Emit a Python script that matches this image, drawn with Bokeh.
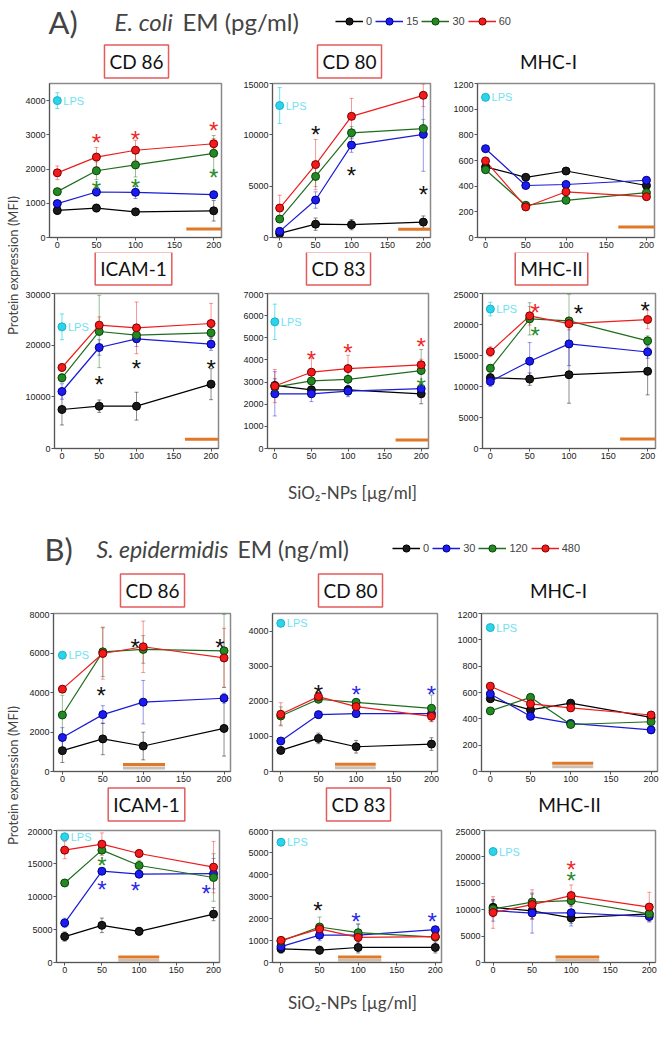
import math
from bokeh.plotting import figure
from bokeh.layouts import column, row
from bokeh.models import (Range1d, Label, Legend, LegendItem, FixedTicker,
                          Whisker, TeeHead, ColumnDataSource)
from bokeh.core.properties import value
from bokeh.embed import file_html
from bokeh.resources import INLINE

# ------------------------------------------------------------------ data
DOSE = [0, 50, 100, 200]                 # SiO2-NPs [µg/ml]
X_TICKS = [0, 50, 100, 150, 200]
A_DOSES = ["0", "15", "30", "60"]        # E. coli EM (pg/ml)
B_DOSES = ["0", "30", "120", "480"]      # S. epidermidis EM (ng/ml)

# series order: EM dose 0, low, mid, high  (black, blue, green, red)
A_CD86 = [[790, 860, 750, 780], [990, 1330, 1320, 1250],
          [1340, 1950, 2120, 2460], [1890, 2350, 2550, 2740]]
A_CD86_SD = [[120, 110, 60, 300], [90, 120, 180, 100],
             [90, 260, 350, 520], [200, 280, 290, 150]]
A_CD86_LPS = [4000, 230]
A_CD86_STARS = [(50, 2950, 3), (100, 3030, 3), (200, 3310, 3),
                (50, 1570, 2), (100, 1630, 2), (200, 1925, 2)]
A_CD86_BAR = [165, 215, 250]

A_CD80 = [[400, 1300, 1250, 1500], [600, 3650, 9000, 10050],
          [1800, 5950, 10200, 10600], [2870, 7100, 11800, 13850]]
A_CD80_SD = [[200, 600, 500, 600], [300, 800, 700, 3600],
             [300, 1000, 600, 900], [1250, 2450, 1750, 1100]]
A_CD80_LPS = [12850, 1750]
A_CD80_STARS = [(50, 10600, 0), (100, 6650, 0), (200, 4800, 0)]
A_CD80_BAR = [165, 215, 800]

A_MHC1 = [[550, 469, 518, 405], [692, 405, 413, 446],
          [528, 251, 290, 349], [597, 238, 356, 318]]
A_MHC1_SD = [[0, 0, 0, 0], [0, 0, 0, 0], [0, 0, 0, 0], [0, 0, 0, 0]]
A_MHC1_LPS = [1092, 0]
A_MHC1_STARS = []
A_MHC1_BAR = [165, 215, 82]

A_ICAM = [[7550, 8190, 8190, 12450], [11030, 19550, 21230, 20190],
          [13680, 22650, 21940, 22390], [15680, 23870, 23350, 24190]]
A_ICAM_SD = [[3000, 1200, 2700, 3000], [1500, 1500, 1500, 1200],
             [800, 7000, 1200, 1000], [700, 1600, 5000, 3900]]
A_ICAM_LPS = [23550, 2500]
A_ICAM_STARS = [(50, 13480, 0), (100, 16650, 0), (200, 16650, 0)]
A_ICAM_BAR = [165, 215, 1800]

A_CD83 = [[2850, 2650, 2650, 2470], [2470, 2470, 2590, 2700],
          [2775, 3050, 3125, 3520], [2820, 3445, 3610, 3780]]
A_CD83_SD = [[300, 300, 200, 450], [1000, 350, 250, 300],
             [200, 300, 400, 950], [750, 650, 600, 250]]
A_CD83_LPS = [5720, 800]
A_CD83_STARS = [(50, 4280, 3), (100, 4600, 3), (200, 4860, 3), (200, 3050, 2)]
A_CD83_BAR = [165, 215, 380]

A_MHC2 = [[11410, 11190, 11900, 12450], [10810, 14080, 16870, 15560],
          [12940, 20910, 20580, 17360], [15610, 21400, 20140, 20800]]
A_MHC2_SD = [[700, 1000, 4600, 3800], [800, 3000, 3500, 1000],
             [600, 2600, 4300, 800], [800, 1500, 1000, 1500]]
A_MHC2_LPS = [22490, 1100]
A_MHC2_STARS = [(57, 22930, 3), (57, 19270, 2), (112, 22760, 0), (197, 23200, 0)]
A_MHC2_BAR = [165, 215, 1530]

B_CD86 = [[1055, 1650, 1290, 2180], [1720, 2880, 3510, 3710],
          [2860, 6060, 6180, 6110], [4170, 5975, 6315, 5750]]
B_CD86_SD = [[600, 800, 700, 1400], [500, 450, 1100, 250],
             [1000, 1250, 700, 1850], [150, 1300, 1300, 1500]]
B_CD86_LPS = [5890, 150]
B_CD86_STARS = [(48, 4170, 0), (90, 6590, 0), (195, 6590, 0)]
B_CD86_BAR = [75, 127, 350]

B_CD80 = [[600, 943, 705, 781], [867, 1619, 1648, 1648],
          [1581, 2057, 1971, 1800], [1629, 2133, 1848, 1571]]
B_CD80_SD = [[80, 150, 180, 180], [80, 100, 80, 80],
             [260, 80, 80, 380], [330, 80, 80, 150]]
B_CD80_LPS = [4220, 0]
B_CD80_STARS = [(50, 2380, 0), (100, 2360, 1), (200, 2360, 1)]
B_CD80_BAR = [72, 126, 210]

B_MHC1 = [[553, 468, 519, 411], [589, 419, 365, 316],
          [460, 563, 357, 378], [648, 514, 483, 429]]
B_MHC1_SD = [[0, 0, 0, 0], [0, 0, 0, 0], [0, 0, 0, 0], [0, 0, 0, 0]]
B_MHC1_LPS = [1093, 0]
B_MHC1_STARS = []
B_MHC1_BAR = [77, 128, 62]

B_ICAM = [[3930, 5630, 4720, 7330], [6000, 13830, 13380, 13460],
          [12050, 17020, 14700, 12880], [17020, 17930, 16520, 14450]]
B_ICAM_SD = [[700, 1100, 600, 1000], [700, 400, 400, 2300],
             [500, 500, 800, 3600], [1300, 1700, 600, 3900]]
B_ICAM_LPS = [19050, 0]
B_ICAM_STARS = [(50, 15570, 2), (50, 12010, 1), (95, 11840, 1), (190, 11300, 1)]
B_ICAM_BAR = [72, 127, 830]

B_CD83 = [[621, 559, 683, 683], [720, 1242, 1242, 1491],
          [969, 1615, 1354, 1155], [1006, 1528, 1143, 1180]]
B_CD83_SD = [[200, 180, 250, 250], [150, 250, 500, 100],
             [100, 450, 400, 150], [100, 200, 200, 100]]
B_CD83_LPS = [5466, 0]
B_CD83_STARS = [(48, 2646, 0), (97, 2124, 1), (196, 2124, 1)]
B_CD83_BAR = [74, 130, 250]

B_MHC2 = [[10455, 9780, 8440, 9210], [9830, 9370, 9420, 8700],
          [10140, 11440, 11700, 9210], [9470, 10970, 12680, 10500]]
B_MHC2_SD = [[1500, 1500, 1000, 800], [2000, 3800, 2500, 1000],
             [1500, 1500, 1000, 500], [3000, 2800, 2000, 2800]]
B_MHC2_LPS = [21010, 0]
B_MHC2_STARS = [(100, 18690, 3), (100, 16620, 2)]
B_MHC2_BAR = [80, 136, 1035]

# ------------------------------------------------------------------ style
TITLE_FONT = "Lato"
TICK_FONT = "Liberation Sans"
LINE_C = ["#000000", "#1a1ad8", "#1e6e1e", "#ee1c1c"]
FILL_C = ["#1a1a1a", "#1c1cf2", "#238a23", "#f21a1a"]
EDGE_C = ["#000000", "#00007a", "#0b420b", "#7a0000"]
STAR_C = ["#111111", "#2a2ae8", "#2a8a2a", "#f02828"]
LPS_C = "#2ad4ea"
LPS_TXT = "#70e2f0"
BAR_C = "#e07828"
SHADOW_C = "#cbbfb3"
BOX_C = "#e35b5b"
LEFT_W = 22   # width of the y-label strip


def make_panel(means, sds, lps, stars, bar, ymax, yticks, geo_row, geo_col, xr, shadow):
    top, bottom, ftop, fbot = geo_row
    x0, x1, fl, fr = geo_col
    p = figure(width=x1 - x0, height=bottom - top,
               x_range=Range1d(*xr), y_range=Range1d(0, ymax),
               min_border_left=fl - x0, min_border_right=x1 - fr,
               min_border_top=ftop - top, min_border_bottom=bottom - fbot,
               output_backend="svg", toolbar_location=None,
               background_fill_color="white", border_fill_color="white")
    p.xgrid.visible = False
    p.ygrid.visible = False
    p.outline_line_color = "#8a8a8a"
    p.outline_line_width = 1.5
    p.xaxis.ticker = FixedTicker(ticks=X_TICKS)
    p.yaxis.ticker = FixedTicker(ticks=yticks)
    for ax in (p.xaxis[0], p.yaxis[0]):
        ax.major_label_text_font = TICK_FONT
        ax.major_label_text_font_size = "9px"
        ax.major_label_text_color = "#222222"
        ax.major_tick_in = 0
        ax.major_tick_out = 3
        ax.minor_tick_in = 0
        ax.minor_tick_out = 0
        ax.axis_line_color = "#555555"
        ax.major_tick_line_color = "#555555"
        ax.major_label_standoff = 1

    fh = fbot - ftop
    upp = ymax / fh

    # orange bar (with grey shadow for panel B)
    if shadow:
        p.segment(x0=[bar[0]], y0=[bar[2] - 3.5 * upp], x1=[bar[1]],
                  y1=[bar[2] - 3.5 * upp], line_color=SHADOW_C, line_width=3)
    p.segment(x0=[bar[0]], y0=[bar[2]], x1=[bar[1]], y1=[bar[2]],
              line_color=BAR_C, line_width=3)

    # error bars
    for i in range(4):
        if max(sds[i]) == 0:
            continue
        src = ColumnDataSource(dict(x=DOSE,
                                    lo=[m - s for m, s in zip(means[i], sds[i])],
                                    hi=[m + s for m, s in zip(means[i], sds[i])]))
        w = Whisker(source=src, base="x", upper="hi", lower="lo",
                    line_color=LINE_C[i], line_alpha=0.45, line_width=1,
                    upper_head=TeeHead(size=4, line_color=LINE_C[i], line_alpha=0.45),
                    lower_head=TeeHead(size=4, line_color=LINE_C[i], line_alpha=0.45))
        p.add_layout(w)
    if lps[1] > 0:
        src = ColumnDataSource(dict(x=[0], lo=[lps[0] - lps[1]], hi=[lps[0] + lps[1]]))
        p.add_layout(Whisker(source=src, base="x", upper="hi", lower="lo",
                             line_color=LPS_C, line_alpha=0.7, line_width=1,
                             upper_head=TeeHead(size=4, line_color=LPS_C, line_alpha=0.7),
                             lower_head=TeeHead(size=4, line_color=LPS_C, line_alpha=0.7)))

    # lines and markers
    for i in range(4):
        p.line(DOSE, means[i], line_color=LINE_C[i], line_width=1.2)
    for i in range(4):
        p.scatter(DOSE, means[i], size=8, fill_color=FILL_C[i],
                  line_color=EDGE_C[i], line_width=1)

    # LPS reference
    p.scatter([0], [lps[0]], size=8, fill_color=LPS_C, line_color="#1ab0c8")
    p.text(x=[0], y=[lps[0]], text=["LPS"], x_offset=6,
           text_font=value(TICK_FONT), text_font_size="11px",
           text_color=LPS_TXT, text_baseline="middle", text_align="left")

    # significance asterisks
    if stars:
        p.text(x=[s[0] for s in stars], y=[s[1] for s in stars],
               text=["*"] * len(stars),
               text_color=[STAR_C[s[2]] for s in stars],
               text_font=value("Liberation Sans"), text_font_size="24px",
               text_align="center", text_baseline="middle", y_offset=6)
    return p


def blank(w, h):
    p = figure(width=w, height=h, x_range=Range1d(0, w), y_range=Range1d(0, h),
               min_border=0, min_border_left=0, min_border_right=0,
               min_border_top=0, min_border_bottom=0,
               x_axis_type=None, y_axis_type=None,
               output_backend="svg", toolbar_location=None,
               outline_line_color=None, background_fill_color="white",
               border_fill_color="white")
    p.grid.visible = False
    return p


def title_strip(h, titles, xs, boxed, cy):
    p = blank(660 - LEFT_W, h)
    for t, x, b in zip(titles, xs, boxed):
        lab = Label(x=x - LEFT_W, y=cy, text=t, text_font=TITLE_FONT,
                    text_font_size="19px", text_color="#111111",
                    text_align="center", text_baseline="middle")
        if b:
            lab.border_line_color = BOX_C
            lab.border_line_width = 1.5
            lab.background_fill_color = "white"
            lab.padding = 5
        p.add_layout(lab)
    return p


def header(h, letter, lx, ital, ix, rest, rx, cy, fsize, doses, legx):
    p = blank(660, h)
    p.add_layout(Label(x=lx, y=cy, text=letter, text_font=TITLE_FONT,
                       text_font_size="31px", text_baseline="middle"))
    p.add_layout(Label(x=ix, y=cy, text=ital, text_font=TITLE_FONT,
                       text_font_style="italic", text_font_size=fsize,
                       text_baseline="middle"))
    p.add_layout(Label(x=rx, y=cy, text=rest, text_font=TITLE_FONT,
                       text_font_size=fsize, text_baseline="middle"))
    items = []
    for i, d in enumerate(doses):
        # legend samples only: drawn off-canvas, shown through the legend glyph
        lr = p.line(x=[-50, -40], y=[-50, -50], line_color=LINE_C[i], line_width=1.5)
        sr = p.scatter(x=[-45], y=[-50], size=9, fill_color=FILL_C[i], line_color=EDGE_C[i])
        items.append(LegendItem(label=d, renderers=[lr, sr]))
    leg = Legend(items=items, location=(legx, cy - 9), orientation="horizontal",
                 glyph_width=28, glyph_height=18, label_standoff=3, spacing=3,
                 padding=0, margin=0, border_line_color=None,
                 background_fill_alpha=0, label_text_font=TICK_FONT,
                 label_text_font_size="11px", label_width=0, label_height=0)
    p.add_layout(leg)
    return p


def ylab(h, cy):
    p = blank(LEFT_W, h)
    p.add_layout(Label(x=12, y=cy, text="Protein expression (MFI)", angle=math.pi / 2,
                       text_font=TITLE_FONT, text_font_size="13px",
                       text_align="center", text_baseline="middle"))
    return p


def xlab(h, cy):
    p = blank(660, h)
    p.add_layout(Label(x=352, y=cy, text="SiO\u2082-NPs [\u00b5g/ml]",
                       text_font=TITLE_FONT, text_font_size="17px",
                       text_align="center", text_baseline="middle"))
    return p


# geometry in page pixels: rows (panel top, panel bottom, frame top, frame bottom)
ROW_A1 = (81, 252, 83, 237)
ROW_A2 = (291, 466, 293, 448)
ROW_B1 = (611, 786, 613, 771)
ROW_B2 = (828, 978, 830, 962)
# columns (left, right, frame left, frame right)
COL_A1 = [(22, 240, 44, 221), (240, 450, 268, 430), (450, 660, 470, 654)]
COL_A2 = [(22, 240, 44, 218), (240, 450, 261, 428), (450, 660, 470, 655)]
COL_B1 = [(22, 245, 53, 230), (245, 452, 272, 437), (452, 660, 481, 657)]
COL_B2 = [(22, 245, 56, 219), (245, 452, 272, 441), (452, 660, 481, 655)]
XR_A = (-10, 210)
XR_B = (-11, 208)

a1 = [make_panel(A_CD86, A_CD86_SD, A_CD86_LPS, A_CD86_STARS, A_CD86_BAR,
                 4500, [0, 1000, 2000, 3000, 4000], ROW_A1, COL_A1[0], XR_A, False),
      make_panel(A_CD80, A_CD80_SD, A_CD80_LPS, A_CD80_STARS, A_CD80_BAR,
                 15000, [0, 5000, 10000, 15000], ROW_A1, COL_A1[1], XR_A, False),
      make_panel(A_MHC1, A_MHC1_SD, A_MHC1_LPS, A_MHC1_STARS, A_MHC1_BAR,
                 1200, [0, 200, 400, 600, 800, 1000, 1200], ROW_A1, COL_A1[2], XR_A, False)]
a2 = [make_panel(A_ICAM, A_ICAM_SD, A_ICAM_LPS, A_ICAM_STARS, A_ICAM_BAR,
                 30000, [0, 10000, 20000, 30000], ROW_A2, COL_A2[0], XR_A, False),
      make_panel(A_CD83, A_CD83_SD, A_CD83_LPS, A_CD83_STARS, A_CD83_BAR,
                 7000, [0, 1000, 2000, 3000, 4000, 5000, 6000, 7000], ROW_A2, COL_A2[1], XR_A, False),
      make_panel(A_MHC2, A_MHC2_SD, A_MHC2_LPS, A_MHC2_STARS, A_MHC2_BAR,
                 25000, [0, 5000, 10000, 15000, 20000, 25000], ROW_A2, COL_A2[2], XR_A, False)]
b1 = [make_panel(B_CD86, B_CD86_SD, B_CD86_LPS, B_CD86_STARS, B_CD86_BAR,
                 8000, [0, 2000, 4000, 6000, 8000], ROW_B1, COL_B1[0], XR_B, True),
      make_panel(B_CD80, B_CD80_SD, B_CD80_LPS, B_CD80_STARS, B_CD80_BAR,
                 4500, [0, 1000, 2000, 3000, 4000], ROW_B1, COL_B1[1], XR_B, True),
      make_panel(B_MHC1, B_MHC1_SD, B_MHC1_LPS, B_MHC1_STARS, B_MHC1_BAR,
                 1200, [0, 200, 400, 600, 800, 1000, 1200], ROW_B1, COL_B1[2], XR_B, True)]
b2 = [make_panel(B_ICAM, B_ICAM_SD, B_ICAM_LPS, B_ICAM_STARS, B_ICAM_BAR,
                 20000, [0, 5000, 10000, 15000, 20000], ROW_B2, COL_B2[0], XR_B, True),
      make_panel(B_CD83, B_CD83_SD, B_CD83_LPS, B_CD83_STARS, B_CD83_BAR,
                 6000, [0, 1000, 2000, 3000, 4000, 5000, 6000], ROW_B2, COL_B2[1], XR_B, True),
      make_panel(B_MHC2, B_MHC2_SD, B_MHC2_LPS, B_MHC2_STARS, B_MHC2_BAR,
                 25000, [0, 5000, 10000, 15000, 20000, 25000], ROW_B2, COL_B2[2], XR_B, True)]

strip_a1 = title_strip(41, ["CD 86", "CD 80", "MHC-I"], [136, 349, 548], [True, True, False], 20)
strip_a2 = title_strip(39, ["ICAM-1", "CD 83", "MHC-II"], [133, 338, 551], [True, True, True], 23)
strip_b1 = title_strip(41, ["CD 86", "CD 80", "MHC-I"], [152, 350, 558], [True, True, False], 21)
strip_b2 = title_strip(42, ["ICAM-1", "CD 83", "MHC-II"], [146, 358, 569], [True, True, False], 24)

head_a = header(40, "A)", 48, "E. coli", 114, "EM (pg/ml)", 182, 19, "24px", A_DOSES, 335)
head_b = header(58, "B)", 44, "S. epidermidis", 96, "EM (ng/ml)", 237, 22, "23px", B_DOSES, 392)

layout = column(
    head_a,
    row(ylab(426, 201), column(strip_a1, row(*a1), strip_a2, row(*a2))),
    xlab(46, 20),
    head_b,
    row(ylab(408, 203), column(strip_b1, row(*b1), strip_b2, row(*b2))),
    xlab(52, 28),
)

open("out.html", "w").write(file_html(layout, INLINE))
